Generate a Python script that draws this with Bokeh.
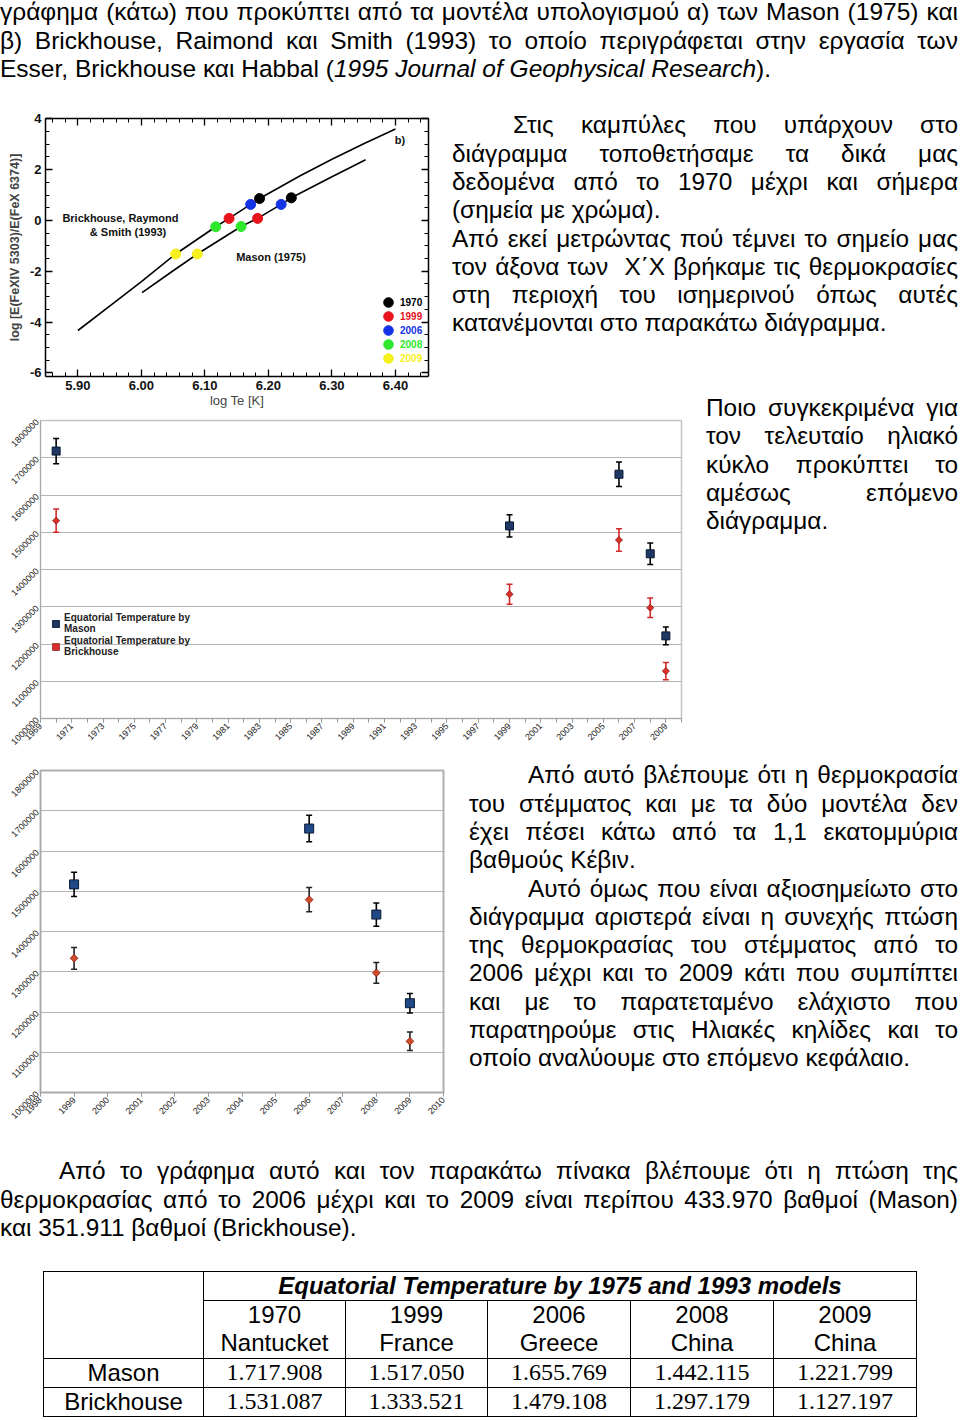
import numpy as np
from bokeh.plotting import figure
from bokeh.models import (Range1d, FixedTicker, NumeralTickFormatter, LinearAxis, Label,
                          Legend, LegendItem, Whisker, TeeHead, ColumnDataSource, Div)
from bokeh.layouts import column, row
from bokeh.embed import file_html
from bokeh.resources import INLINE

# ---------------- data ----------------
obs_years = [1970, 1999, 2006, 2008, 2009]
obs_places = ["Nantucket", "France", "Greece", "China", "China"]
mason_temp = [1717908, 1517050, 1655769, 1442115, 1221799]
brick_temp = [1531087, 1333521, 1479108, 1297179, 1127197]
mason_err = [34000, 30000, 33000, 29000, 24000]
brick_err = [31000, 27000, 30000, 26000, 23000]

# chart 1: model curves log ratio vs log Te
brick_curve_logT = [5.90, 5.95, 6.00, 6.054, 6.117, 6.138, 6.172, 6.186, 6.25, 6.30, 6.35, 6.40]
brick_curve_ratio = [-4.33, -3.37, -2.41, -1.32, -0.25, 0.08, 0.63, 0.86, 1.76, 2.41, 3.02, 3.60]
mason_curve_logT = [6.001, 6.05, 6.088, 6.157, 6.183, 6.22, 6.236, 6.30, 6.353]
mason_curve_ratio = [-2.84, -1.98, -1.32, -0.24, 0.08, 0.63, 0.89, 1.72, 2.39]
dot_years = ["1970", "1999", "2006", "2008", "2009"]
dot_colors = ["#000000", "#e8141c", "#1432e6", "#2ee82e", "#f5f01e"]
brick_dot_logT = [6.186, 6.138, 6.172, 6.117, 6.054]
brick_dot_ratio = [0.86, 0.08, 0.63, -0.25, -1.32]
mason_dot_logT = [6.236, 6.183, 6.220, 6.157, 6.088]
mason_dot_ratio = [0.89, 0.08, 0.63, -0.24, -1.32]

c1_xticks = [5.90, 6.00, 6.10, 6.20, 6.30, 6.40]
c1_xminor = [round(5.86 + 0.02 * i, 2) for i in range(30)]
c1_yticks = [-6, -4, -2, 0, 2, 4]
c1_yminor = [-6 + 0.5 * i for i in range(21)]
c2_label_years = list(range(1969, 2010, 2))
c2_all_years = list(range(1969, 2011))
c3_years = list(range(1998, 2011))
temp_ticks = [1000000, 1100000, 1200000, 1300000, 1400000, 1500000, 1600000, 1700000, 1800000]

SANS = "Liberation Sans"

# ---------------- chart 1 ----------------
p1 = figure(width=440, height=302, x_range=Range1d(5.849, 6.452), y_range=Range1d(-6.14, 4.01),
            output_backend="svg", toolbar_location=None,
            min_border_left=45, min_border_right=12, min_border_top=10, min_border_bottom=33)
p1.grid.visible = False
p1.outline_line_color = None
p1.xaxis.ticker = FixedTicker(ticks=c1_xticks, minor_ticks=c1_xminor)
p1.xaxis.formatter = NumeralTickFormatter(format="0.00")
p1.yaxis.ticker = FixedTicker(ticks=c1_yticks, minor_ticks=c1_yminor)
p1.yaxis.formatter = NumeralTickFormatter(format="0")
for ax in (p1.xaxis[0], p1.yaxis[0]):
    ax.axis_line_width = 1.5
    ax.major_tick_in = 7
    ax.major_tick_out = 0
    ax.minor_tick_in = 4
    ax.minor_tick_out = 0
    ax.major_tick_line_width = 1.3
    ax.major_label_text_font = SANS
    ax.major_label_text_font_size = "13px"
    ax.major_label_text_font_style = "bold"
    ax.major_label_text_color = "#111"
p1.xaxis.major_label_standoff = 4
p1.yaxis.major_label_standoff = 4
p1.xaxis.axis_label = "log Te [K]"
p1.xaxis.axis_label_text_font = SANS
p1.xaxis.axis_label_text_font_size = "13px"
p1.xaxis.axis_label_text_font_style = "normal"
p1.xaxis.axis_label_standoff = 0
p1.yaxis.axis_label = "log [E(FeXIV 5303)/E(FeX 6374)]"
p1.yaxis.axis_label_text_font = SANS
p1.yaxis.axis_label_text_font_size = "12.5px"
p1.yaxis.axis_label_text_font_style = "bold"
p1.yaxis.axis_label_standoff = 5
for side, tk in (("above", FixedTicker(ticks=c1_xticks, minor_ticks=c1_xminor)),
                 ("right", FixedTicker(ticks=c1_yticks, minor_ticks=c1_yminor))):
    ax = LinearAxis(ticker=tk, major_label_text_font_size="1px", major_label_text_color=None,
                    major_label_standoff=0,
                    axis_line_width=1.5, major_tick_in=7, major_tick_out=0,
                    minor_tick_in=4, minor_tick_out=0, major_tick_line_width=1.3)
    p1.add_layout(ax, side)

p1.line(brick_curve_logT, brick_curve_ratio, line_color="black", line_width=1.6)
p1.line(mason_curve_logT, mason_curve_ratio, line_color="black", line_width=1.6)
leg_bottom = [62, 48, 34, 20, 6]
for i, yr in enumerate(dot_years):
    r = p1.scatter([brick_dot_logT[i], mason_dot_logT[i]], [brick_dot_ratio[i], mason_dot_ratio[i]],
                   size=10, fill_color=dot_colors[i], line_color=dot_colors[i])
    lg = Legend(items=[LegendItem(label=yr, renderers=[r])], location=(331, leg_bottom[i]),
                label_text_color=dot_colors[i], label_text_font=SANS, label_text_font_size="10px",
                label_text_font_style="bold", glyph_width=24, glyph_height=24, label_height=10,
                label_standoff=-7, padding=0, margin=0, spacing=0,
                background_fill_alpha=0, border_line_alpha=0)
    p1.add_layout(lg)

for txt, x, y in (("Brickhouse, Raymond", 5.967, 0.09),
                  ("& Smith (1993)", 5.979, -0.46),
                  ("Mason (1975)", 6.204, -1.44),
                  ("b)", 6.407, 3.18)):
    p1.add_layout(Label(x=x, y=y, text=txt, text_align="center", text_baseline="middle",
                        text_font=SANS, text_font_size="11px", text_font_style="bold",
                        text_color="#111"))


# ---------------- Excel-like charts ----------------
def excel_chart(width, height, x0, x1, borders, xticks, xminor, years, mason, brick,
                m_err, b_err, m_color, b_color, b_err_color, legend=False, m_size=8, b_size=5.5):
    p = figure(width=width, height=height, x_range=Range1d(x0, x1),
               y_range=Range1d(1000000, 1800000), output_backend="svg", toolbar_location=None,
               min_border_left=borders[0], min_border_right=borders[1],
               min_border_top=borders[2], min_border_bottom=borders[3])
    p.xgrid.visible = False
    p.ygrid.grid_line_color = "#b4b4b4"
    p.ygrid.grid_line_width = 1.2
    p.outline_line_color = "#c4c4c4"
    p.outline_line_width = 1.5
    p.yaxis.ticker = FixedTicker(ticks=temp_ticks)
    p.yaxis.formatter = NumeralTickFormatter(format="0")
    p.xaxis.ticker = FixedTicker(ticks=xticks, minor_ticks=xminor)
    p.xaxis.formatter = NumeralTickFormatter(format="0")
    for ax in (p.xaxis[0], p.yaxis[0]):
        ax.axis_line_color = "#a8a8a8"
        ax.major_label_orientation = np.pi / 4
        ax.major_label_text_font = SANS
        ax.major_label_text_font_size = "9px"
        ax.major_label_text_color = "#222"
        ax.major_tick_in = 0
        ax.minor_tick_in = 0
        ax.major_tick_line_color = "#999"
        ax.minor_tick_line_color = "#999"
    p.xaxis.major_tick_out = 4
    p.xaxis.minor_tick_out = 4
    p.xaxis.major_label_standoff = 2
    p.yaxis.major_tick_out = 0
    p.yaxis.minor_tick_out = 0
    p.yaxis.major_label_standoff = 3

    msrc = ColumnDataSource(dict(x=years, y=mason,
                                 upper=[v + e for v, e in zip(mason, m_err)],
                                 lower=[v - e for v, e in zip(mason, m_err)]))
    bsrc = ColumnDataSource(dict(x=years, y=brick,
                                 upper=[v + e for v, e in zip(brick, b_err)],
                                 lower=[v - e for v, e in zip(brick, b_err)]))
    for src, col in ((msrc, "black"), (bsrc, b_err_color)):
        w = Whisker(source=src, base="x", upper="upper", lower="lower", line_color=col,
                    line_width=1.6, level="underlay",
                    upper_head=TeeHead(size=6, line_color=col, line_width=1.5),
                    lower_head=TeeHead(size=6, line_color=col, line_width=1.5))
        p.add_layout(w)
    rm = p.scatter("x", "y", source=msrc, marker="square", size=m_size, fill_color=m_color,
                   line_color="#0a1a33", line_width=1)
    rb = p.scatter("x", "y", source=bsrc, marker="square", angle=np.pi / 4, size=b_size,
                   fill_color=b_color, line_color="#8a1a10", line_width=0.8)
    if legend:
        lg = Legend(items=[LegendItem(label="Equatorial Temperature by\nMason", renderers=[rm]),
                           LegendItem(label="Equatorial Temperature by\nBrickhouse", renderers=[rb])],
                    location=(7, 61), label_text_font=SANS, label_text_font_size="10px",
                    label_text_font_style="bold", label_text_color="#222",
                    label_text_line_height=1.1, glyph_width=17, glyph_height=17,
                    label_standoff=0, padding=0, margin=0, spacing=1,
                    background_fill_alpha=0, border_line_alpha=0)
        p.add_layout(lg)
    return p


p2 = excel_chart(700, 345, 1969, 2010, (40, 19, 10, 37), c2_label_years, c2_all_years,
                 obs_years, mason_temp, brick_temp, mason_err, brick_err,
                 "#1f3864", "#d9302c", "#d42a2a", legend=True, m_size=8, b_size=5)
p3 = excel_chart(463, 370, 1998, 2010, (40, 20, 15, 33), c3_years, c3_years,
                 obs_years[1:], mason_temp[1:], brick_temp[1:], mason_err[1:], brick_err[1:],
                 "#1f4a87", "#d04a2c", "#222222", legend=False, m_size=9, b_size=5.5)
p3.outline_line_color = "#b0b0b0"
p3.outline_line_width = 2

# ---------------- text blocks ----------------
BODY = f"font-family:'{SANS}',Arial,sans-serif;font-size:24.4px;color:#000;"
TOP = f"font-family:'{SANS}',Arial,sans-serif;font-size:24.5px;color:#000;"
LH = 28.3


def para(lines, font_css, width, top, left, right=2):
    out = [f'<div style="{font_css}width:{width}px;box-sizing:border-box;margin-top:{top}px;'
           f'padding-left:{left}px;padding-right:{right}px;">']
    for text, just, indent in lines:
        last = "justify" if just else "left"
        out.append(f'<div style="display:block;height:{LH}px;line-height:{LH}px;overflow:hidden;'
                   f'text-align:justify;text-align-last:{last};padding-left:{indent}px;">{text}</div>')
    out.append('</div>')
    return "".join(out)


textA = [
    ("γράφημα (κάτω) που προκύπτει από τα μοντέλα υπολογισμού α) των Mason (1975) και", True, 0),
    ("β) Brickhouse, Raimond και Smith (1993) το οποίο περιγράφεται στην εργασία των", True, 0),
    ("Esser, Brickhouse και Habbal (<i>1995 Journal of Geophysical Research</i>).", False, 0),
]
textB = [
    ("Στις καμπύλες που υπάρχουν στο", True, 61),
    ("διάγραμμα τοποθετήσαμε τα δικά μας", True, 0),
    ("δεδομένα από το 1970 μέχρι και σήμερα", True, 0),
    ("(σημεία με χρώμα).", False, 0),
    ("Από εκεί μετρώντας πού τέμνει το σημείο μας", True, 0),
    ("τον άξονα των&nbsp; Χ΄Χ βρήκαμε τις θερμοκρασίες", True, 0),
    ("στη περιοχή του ισημερινού όπως αυτές", True, 0),
    ("κατανέμονται στο παρακάτω διάγραμμα.", False, 0),
]
textC = [
    ("Ποιο συγκεκριμένα για", True, 0),
    ("τον τελευταίο ηλιακό", True, 0),
    ("κύκλο προκύπτει το", True, 0),
    ("αμέσως επόμενο", True, 0),
    ("διάγραμμα.", False, 0),
]
textD = [
    ("Από αυτό βλέπουμε ότι η θερμοκρασία", True, 59),
    ("του στέμματος και με τα δύο μοντέλα δεν", True, 0),
    ("έχει πέσει κάτω από τα 1,1 εκατομμύρια", True, 0),
    ("βαθμούς Κέβιν.", False, 0),
    ("Αυτό όμως που είναι αξιοσημείωτο στο", True, 59),
    ("διάγραμμα αριστερά είναι η συνεχής πτώση", True, 0),
    ("της θερμοκρασίας του στέμματος από το", True, 0),
    ("2006 μέχρι και το 2009 κάτι που συμπίπτει", True, 0),
    ("και με το παρατεταμένο ελάχιστο που", True, 0),
    ("παρατηρούμε στις Ηλιακές κηλίδες και το", True, 0),
    ("οποίο αναλύουμε στο επόμενο κεφάλαιο.", False, 0),
]
textE = [
    ("Από το γράφημα αυτό και τον παρακάτω πίνακα βλέπουμε ότι η πτώση της", True, 59),
    ("θερμοκρασίας από το 2006 μέχρι και το 2009 είναι περίπου 433.970 βαθμοί (Mason)", True, 0),
    ("και 351.911 βαθμοί (Brickhouse).", False, 0),
]


def mkdiv(html, w, h):
    return Div(text=html, width=w, height=h, margin=0, styles={"overflow": "visible"})


divA = mkdiv(para(textA, TOP, 960, -1.6, 0), 960, 108)
divB = mkdiv(para(textB, BODY, 520, 3.4, 12), 520, 302)
divC = mkdiv(para(textC, BODY, 260, -16.1, 6), 260, 345)
divD = mkdiv(para(textD, BODY, 497, 6.4, 6), 497, 370)
divE = mkdiv(para(textE, BODY, 960, 32.4, 0), 960, 137)

# ---------------- table ----------------
def fmt(v):
    return f"{v:,}".replace(",", ".")

cell = "border:1.5px solid #000;padding:0;text-align:center;vertical-align:middle;"
serif = "font-family:'Liberation Serif','Times New Roman',serif;"
tbl = [f'<table style="border-collapse:collapse;table-layout:fixed;width:873px;margin-left:43px;'
       f'margin-top:9px;font-family:\'{SANS}\',Arial,sans-serif;font-size:24px;color:#000;">',
       '<colgroup><col style="width:160px"><col style="width:142px"><col style="width:142px">'
       '<col style="width:143px"><col style="width:143px"><col style="width:143px"></colgroup>',
       f'<tr style="height:28.5px"><td rowspan="2" style="{cell}"></td>'
       f'<td colspan="5" style="{cell}font-weight:bold;font-style:italic;line-height:26px;">'
       'Equatorial Temperature by 1975 and 1993 models</td></tr>',
       '<tr style="height:58px">' + "".join(
           f'<td style="{cell}line-height:28px;">{y}<br>{pl}</td>' for y, pl in zip(obs_years, obs_places))
       + '</tr>']
for name, vals in (("Mason", mason_temp), ("Brickhouse", brick_temp)):
    tbl.append(f'<tr style="height:29.3px"><td style="{cell}line-height:27px;">{name}</td>' + "".join(
        f'<td style="{cell}{serif}line-height:27px;">{fmt(v)}</td>' for v in vals) + '</tr>')
tbl.append('</table>')
divF = mkdiv("".join(tbl), 960, 157)

layout = column(
    divA,
    row(p1, divB, spacing=0),
    row(p2, divC, spacing=0),
    row(p3, divD, spacing=0),
    divE,
    divF,
    spacing=0,
)

open("out.html", "w").write(file_html(layout, INLINE, title="chart"))
